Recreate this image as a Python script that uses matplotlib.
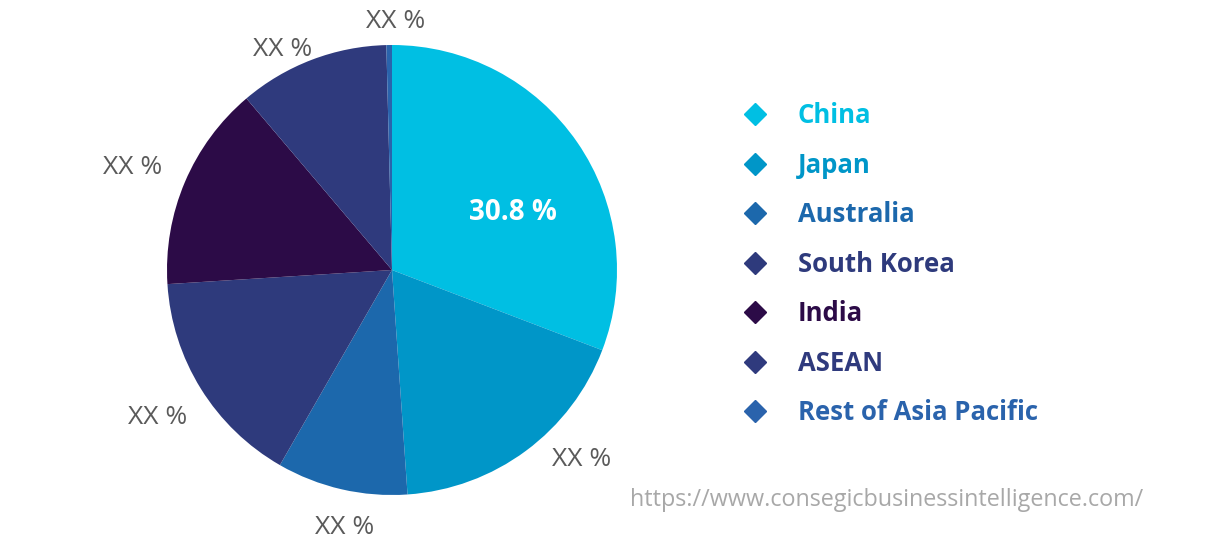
import matplotlib.pyplot as plt
from matplotlib.lines import Line2D

regions = ['China', 'Japan', 'Australia', 'South Korea', 'India', 'ASEAN', 'Rest of Asia Pacific']
shares = [30.8, 18.1, 9.4, 15.7, 14.8, 10.8, 0.4]
slice_labels = ['', 'XX %', 'XX %', 'XX %', 'XX %', 'XX %', 'XX %']
colors = ['#00BFE3', '#0096C8', '#1C68AC', '#2E3A7C', '#2C0B47', '#2F3A7D', '#2A63AC']

# where each outer label sits (pixels, from bottom-left)
label_pos = [(513, 333), (582, 86), (345, 18), (158, 129), (133, 378), (283, 496), (396, 524)]

fig = plt.figure(figsize=(12.3, 5.46), dpi=100)
ax = fig.add_axes([0, 0, 1, 1])

wedges, texts = ax.pie(shares, labels=slice_labels, colors=colors,
                       startangle=90, counterclock=False,
                       center=(392, 276), radius=225,
                       textprops=dict(fontsize=19, color='#5a5a5a', family='Open Sans'))
for t, p in zip(texts, label_pos):
    t.set_position(p)
    t.set_horizontalalignment('center')
    t.set_verticalalignment('center')

ax.text(*label_pos[0], '30.8 %', color='white', fontsize=20, fontweight='bold',
        family='Open Sans', ha='center', va='center')

ax.set_xlim(0, 1230)
ax.set_ylim(0, 546)
ax.set_aspect('equal')
ax.axis('off')

# legend with coloured labels
handles = [Line2D([], [], linestyle='none', marker='D', markersize=11,
                  markerfacecolor=c, markeredgecolor=c, label=r)
           for r, c in zip(regions, colors)]
leg = ax.legend(handles=handles, loc='upper left', bbox_to_anchor=(0.586, 0.855),
                frameon=False, handlelength=0.9, handletextpad=1.2,
                labelspacing=0.875, labelcolor='markerfacecolor',
                prop=dict(family='Open Sans', weight='bold', size=18.5))

fig.text(0.512, 0.084, 'https://www.consegicbusinessintelligence.com/',
         color='#a8a8a8', fontsize=16.8, family='Open Sans', va='center')

plt.savefig('out.png', dpi=100)
